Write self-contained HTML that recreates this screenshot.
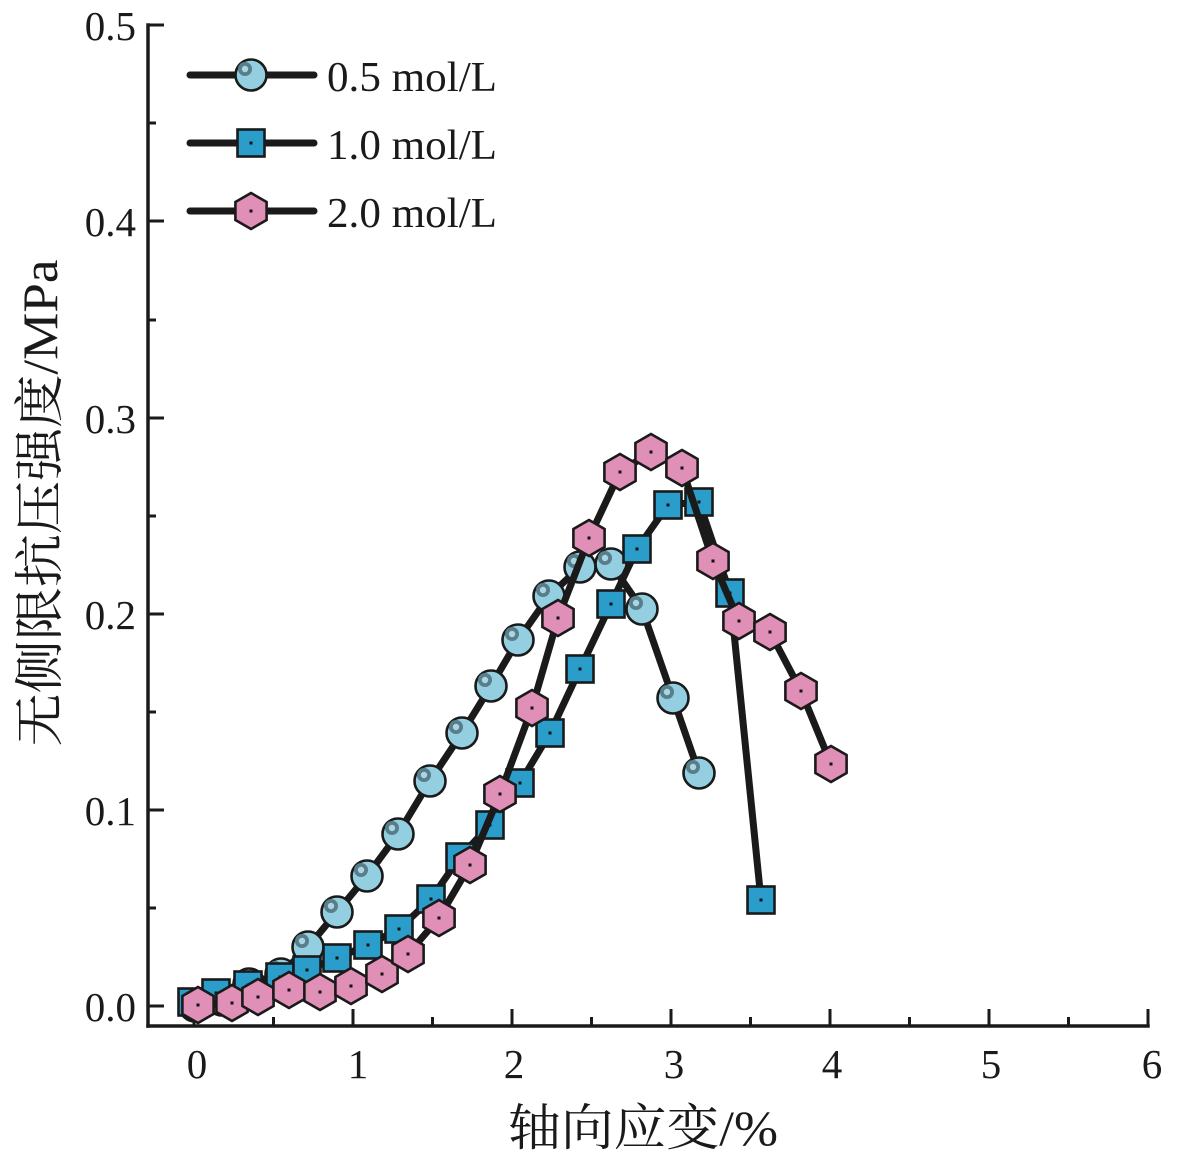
<!DOCTYPE html>
<html>
<head>
<meta charset="utf-8">
<style>
  html, body { margin:0; padding:0; background:#ffffff; }
  svg { display:block; }
  text { font-family: "Liberation Serif", "Noto Serif CJK SC", serif; fill:#1a1a1a; }
</style>
</head>
<body>
<svg width="1177" height="1163" viewBox="0 0 1177 1163" xmlns="http://www.w3.org/2000/svg">
  <defs>
    <g id="circ">
      <circle cx="0" cy="0" r="15.5" fill="#93cfe0" stroke="#1a1a1a" stroke-width="2.6"/>
      <circle cx="-6" cy="-6" r="7" fill="#587e8a"/>
      <circle cx="-6" cy="-6" r="3.2" fill="#a9d6e2"/>
    </g>
    <g id="sq">
      <rect x="-13.5" y="-13.5" width="27" height="27" fill="#2a9dca" stroke="#1a1a1a" stroke-width="2.6"/>
      <rect x="-1.5" y="-1.5" width="3" height="3" fill="#111"/>
    </g>
    <g id="hex">
      <polygon points="0,-18 15.6,-9 15.6,9 0,18 -15.6,9 -15.6,-9" fill="#e08fb6" stroke="#1a1a1a" stroke-width="2.6"/>
      <rect x="-1.5" y="-1.5" width="3" height="3" fill="#111"/>
    </g>
  </defs>

  <!-- Axes -->
  <g stroke="#1a1a1a" stroke-width="3.5" fill="none" stroke-linecap="square">
    <line x1="148" y1="25" x2="148" y2="1026"/>
    <line x1="148" y1="1026" x2="1148" y2="1026"/>
  </g>
  <!-- Y ticks -->
  <g stroke="#1a1a1a" stroke-width="3">
    <line x1="148" y1="1006" x2="164" y2="1006"/>
    <line x1="148" y1="810" x2="164" y2="810"/>
    <line x1="148" y1="614" x2="164" y2="614"/>
    <line x1="148" y1="418" x2="164" y2="418"/>
    <line x1="148" y1="221" x2="164" y2="221"/>
    <line x1="148" y1="25" x2="164" y2="25"/>
    <line x1="148" y1="908" x2="156" y2="908"/>
    <line x1="148" y1="712" x2="156" y2="712"/>
    <line x1="148" y1="516" x2="156" y2="516"/>
    <line x1="148" y1="320" x2="156" y2="320"/>
    <line x1="148" y1="123" x2="156" y2="123"/>
  </g>
  <!-- X ticks -->
  <g stroke="#1a1a1a" stroke-width="3">
    <line x1="194" y1="1026" x2="194" y2="1009"/>
    <line x1="353" y1="1026" x2="353" y2="1009"/>
    <line x1="512" y1="1026" x2="512" y2="1009"/>
    <line x1="671" y1="1026" x2="671" y2="1009"/>
    <line x1="830" y1="1026" x2="830" y2="1009"/>
    <line x1="989" y1="1026" x2="989" y2="1009"/>
    <line x1="1148" y1="1026" x2="1148" y2="1009"/>
    <line x1="273.5" y1="1026" x2="273.5" y2="1017"/>
    <line x1="432.5" y1="1026" x2="432.5" y2="1017"/>
    <line x1="591.5" y1="1026" x2="591.5" y2="1017"/>
    <line x1="750.5" y1="1026" x2="750.5" y2="1017"/>
    <line x1="909.5" y1="1026" x2="909.5" y2="1017"/>
    <line x1="1068.5" y1="1026" x2="1068.5" y2="1017"/>
  </g>

  <!-- Y tick labels -->
  <g font-size="41" text-anchor="end">
    <text x="136" y="1021">0.0</text>
    <text x="136" y="825">0.1</text>
    <text x="136" y="629">0.2</text>
    <text x="136" y="433">0.3</text>
    <text x="136" y="236">0.4</text>
    <text x="136" y="40">0.5</text>
  </g>
  <!-- X tick labels -->
  <g font-size="41" text-anchor="middle">
    <text x="197" y="1078">0</text>
    <text x="358" y="1078">1</text>
    <text x="514" y="1078">2</text>
    <text x="674" y="1078">3</text>
    <text x="832" y="1078">4</text>
    <text x="991" y="1078">5</text>
    <text x="1152" y="1078">6</text>
  </g>

  <!-- Axis titles -->
  <text x="643" y="1145" font-size="50" text-anchor="middle" textLength="270" lengthAdjust="spacingAndGlyphs">轴向应变/%</text>
  <text transform="translate(57,503) rotate(-90)" x="0" y="0" font-size="50" text-anchor="middle" textLength="487" lengthAdjust="spacingAndGlyphs">无侧限抗压强度/MPa</text>

  <!-- Series 1: 0.5 mol/L circles -->
  <polyline fill="none" stroke="#1a1a1a" stroke-width="7" stroke-linejoin="round"
    points="195,1006 222,1000 249,984 281,974 308,947 337,912 367,876 398,834 430,781 462,733 491,686 518,640 549,596 580,567 611,564 642,609 673,698 699,773"/>
  <g>
    <use href="#circ" x="195" y="1006"/>
    <use href="#circ" x="222" y="1000"/>
    <use href="#circ" x="249" y="984"/>
    <use href="#circ" x="281" y="974"/>
    <use href="#circ" x="308" y="947"/>
    <use href="#circ" x="337" y="912"/>
    <use href="#circ" x="367" y="876"/>
    <use href="#circ" x="398" y="834"/>
    <use href="#circ" x="430" y="781"/>
    <use href="#circ" x="462" y="733"/>
    <use href="#circ" x="491" y="686"/>
    <use href="#circ" x="518" y="640"/>
    <use href="#circ" x="549" y="596"/>
    <use href="#circ" x="580" y="567"/>
    <use href="#circ" x="611" y="564"/>
    <use href="#circ" x="642" y="609"/>
    <use href="#circ" x="673" y="698"/>
    <use href="#circ" x="699" y="773"/>
  </g>

  <!-- Series 2: 1.0 mol/L squares -->
  <polyline fill="none" stroke="#1a1a1a" stroke-width="7" stroke-linejoin="round"
    points="192,1002 216,993 248,985 280,977 307,970 337,958 368,945 399,929 431,899 460,857 490,825 520,783 550,733 580,669 611,604 637,549 668,505 699,502 730,593 761,900"/>
  <g>
    <use href="#sq" x="192" y="1002"/>
    <use href="#sq" x="216" y="993"/>
    <use href="#sq" x="248" y="985"/>
    <use href="#sq" x="280" y="977"/>
    <use href="#sq" x="307" y="970"/>
    <use href="#sq" x="337" y="958"/>
    <use href="#sq" x="368" y="945"/>
    <use href="#sq" x="399" y="929"/>
    <use href="#sq" x="431" y="899"/>
    <use href="#sq" x="460" y="857"/>
    <use href="#sq" x="490" y="825"/>
    <use href="#sq" x="520" y="783"/>
    <use href="#sq" x="550" y="733"/>
    <use href="#sq" x="580" y="669"/>
    <use href="#sq" x="611" y="604"/>
    <use href="#sq" x="637" y="549"/>
    <use href="#sq" x="668" y="505"/>
    <use href="#sq" x="699" y="502"/>
    <use href="#sq" x="730" y="593"/>
    <use href="#sq" x="761" y="900"/>
  </g>

  <!-- Series 3: 2.0 mol/L hexagons -->
  <polyline fill="none" stroke="#1a1a1a" stroke-width="7" stroke-linejoin="round"
    points="198,1005 232,1003 258,997 289,990 320,992 351,986 382,974 408,954 439,918 470,865 500,794 532,708 558,618 589,538 620,472 651,452 682,468 713,561 739,621 770,632 801,691 831,764"/>
  <g>
    <use href="#hex" x="198" y="1005"/>
    <use href="#hex" x="232" y="1003"/>
    <use href="#hex" x="258" y="997"/>
    <use href="#hex" x="289" y="990"/>
    <use href="#hex" x="320" y="992"/>
    <use href="#hex" x="351" y="986"/>
    <use href="#hex" x="382" y="974"/>
    <use href="#hex" x="408" y="954"/>
    <use href="#hex" x="439" y="918"/>
    <use href="#hex" x="470" y="865"/>
    <use href="#hex" x="500" y="794"/>
    <use href="#hex" x="532" y="708"/>
    <use href="#hex" x="558" y="618"/>
    <use href="#hex" x="589" y="538"/>
    <use href="#hex" x="620" y="472"/>
    <use href="#hex" x="651" y="452"/>
    <use href="#hex" x="682" y="468"/>
    <use href="#hex" x="713" y="561"/>
    <use href="#hex" x="739" y="621"/>
    <use href="#hex" x="770" y="632"/>
    <use href="#hex" x="801" y="691"/>
    <use href="#hex" x="831" y="764"/>
  </g>

  <!-- Legend -->
  <g stroke="#1a1a1a" stroke-width="7" stroke-linecap="round">
    <line x1="190" y1="75" x2="314" y2="75"/>
    <line x1="190" y1="143" x2="314" y2="143"/>
    <line x1="190" y1="211" x2="314" y2="211"/>
  </g>
  <use href="#circ" x="251" y="75"/>
  <use href="#sq" x="251" y="143"/>
  <use href="#hex" x="251" y="211"/>
  <g font-size="42">
    <text x="327" y="91" textLength="170" lengthAdjust="spacingAndGlyphs">0.5 mol/L</text>
    <text x="327" y="159" textLength="170" lengthAdjust="spacingAndGlyphs">1.0 mol/L</text>
    <text x="327" y="227" textLength="170" lengthAdjust="spacingAndGlyphs">2.0 mol/L</text>
  </g>
</svg>
</body>
</html>
